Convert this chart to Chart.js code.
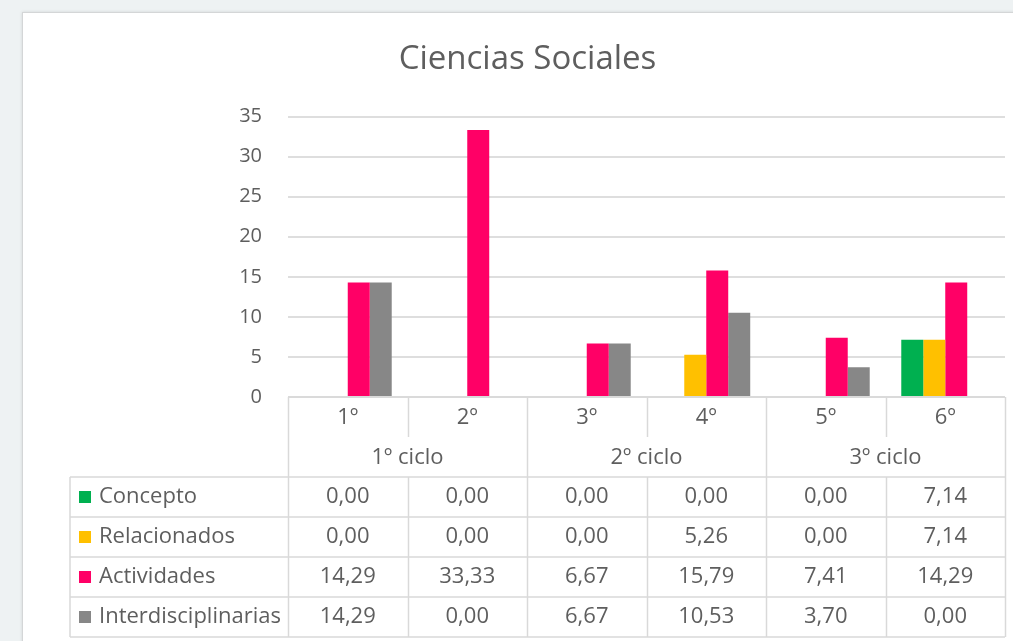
<!DOCTYPE html>
<html lang="es">
<head>
<meta charset="utf-8">
<title>Ciencias Sociales</title>
<script src="https://cdn.jsdelivr.net/npm/chart.js@4.4.1/dist/chart.umd.min.js"></script>
<style>
    html, body { margin: 0; padding: 0; background: #eef2f3; overflow: hidden; }
    #card {
        position: absolute; left: 22px; top: 12px; width: 1010px; height: 650px;
        background: #ffffff; border: 1px solid #d4d6d7; box-shadow: 0 0 3px rgba(0,0,0,0.12);
    }
    #chart-wrap { position: absolute; left: 0; top: 0; width: 1013px; height: 641px; }
</style>
</head>
<body>
<div id="card"></div>
<div id="chart-wrap"><canvas id="socialesChart" width="1013" height="641"></canvas></div>
<script>
const categories = ['1º', '2º', '3º', '4º', '5º', '6º'];
const cycles = ['1º ciclo', '2º ciclo', '3º ciclo'];
const seriesNames = ['Concepto', 'Relacionados', 'Actividades', 'Interdisciplinarias'];
const concepto = [0.00, 0.00, 0.00, 0.00, 0.00, 7.14];
const relacionados = [0.00, 0.00, 0.00, 5.26, 0.00, 7.14];
const actividades = [14.29, 33.33, 6.67, 15.79, 7.41, 14.29];
const interdisciplinarias = [14.29, 0.00, 6.67, 10.53, 3.70, 0.00];
const yTicks = [0, 5, 10, 15, 20, 25, 30, 35];

const seriesColors = ['#00b050', '#ffc000', '#ff0066', '#878787'];
const textColor = '#5e5e5e';
const lineColor = '#d9d9d9';
const fontFamily = '"Open Sans", "Noto Sans", sans-serif';

const fmt = v => v.toFixed(2).replace('.', ',');

// data table under the plot, drawn from the x scale
const dataTablePlugin = {
    id: 'dataTable',
    afterDraw(chart) {
        const ctx = chart.ctx;
        const xs = chart.scales.x;
        const area = chart.chartArea;
        const n = categories.length;
        const bounds = [area.left];
        for (let i = 1; i < n; i++) {
            bounds.push((xs.getPixelForValue(i - 1) + xs.getPixelForValue(i)) / 2);
        }
        bounds.push(area.right);

        const top = area.bottom;
        const headMid = top + 40;
        const headBottom = top + 80;
        const rowH = 40;
        const tableLeft = 70;
        const rows = [concepto, relacionados, actividades, interdisciplinarias];
        const tableBottom = headBottom + rows.length * rowH;

        ctx.save();
        ctx.strokeStyle = lineColor;
        ctx.lineWidth = 1.5;
        ctx.beginPath();
        // header box
        ctx.moveTo(area.left, top); ctx.lineTo(area.right, top);
        for (let i = 0; i <= n; i++) {
            const x = Math.round(bounds[i]) + 0.5;
            if (i % 2 === 0) {
                ctx.moveTo(x, top); ctx.lineTo(x, headBottom);
            } else {
                ctx.moveTo(x, top); ctx.lineTo(x, headMid);
            }
        }
        // body rows
        for (let r = 0; r <= rows.length; r++) {
            const y = headBottom + r * rowH;
            ctx.moveTo(tableLeft, y); ctx.lineTo(area.right, y);
        }
        ctx.moveTo(tableLeft, headBottom); ctx.lineTo(tableLeft, tableBottom);
        for (let i = 0; i <= n; i++) {
            const x = Math.round(bounds[i]) + 0.5;
            ctx.moveTo(x, headBottom); ctx.lineTo(x, tableBottom);
        }
        ctx.stroke();

        ctx.fillStyle = textColor;
        ctx.font = '22px ' + fontFamily;
        ctx.textBaseline = 'middle';
        ctx.textAlign = 'center';
        categories.forEach((c, i) => {
            ctx.fillText(c, xs.getPixelForValue(i), top + 21);
        });
        cycles.forEach((c, g) => {
            ctx.fillText(c, (bounds[g * 2] + bounds[g * 2 + 2]) / 2, top + 61);
        });

        rows.forEach((vals, r) => {
            const yMid = headBottom + r * rowH + rowH / 2;
            vals.forEach((v, i) => {
                ctx.fillText(fmt(v), xs.getPixelForValue(i), yMid);
            });
            ctx.fillStyle = seriesColors[r];
            ctx.fillRect(tableLeft + 9, yMid - 6, 12, 12);
            ctx.fillStyle = textColor;
            ctx.textAlign = 'left';
            ctx.fillText(seriesNames[r], tableLeft + 29, yMid);
            ctx.textAlign = 'center';
        });
        ctx.restore();
    }
};

document.addEventListener('DOMContentLoaded', () => {
    const ctx = document.getElementById('socialesChart').getContext('2d');
    const allSeries = [concepto, relacionados, actividades, interdisciplinarias];

    new Chart(ctx, {
        type: 'bar',
        data: {
            labels: categories,
            datasets: seriesNames.map((name, k) => ({
                label: name,
                data: allSeries[k],
                backgroundColor: seriesColors[k],
                borderWidth: 0,
                categoryPercentage: 0.736,
                barPercentage: 1.0
            }))
        },
        options: {
            responsive: false,
            animation: false,
            devicePixelRatio: 1,
            layout: { padding: { left: 50, right: 8, top: 0, bottom: 244 } },
            plugins: {
                legend: { display: false },
                tooltip: { enabled: false },
                title: {
                    display: true,
                    text: 'Ciencias Sociales',
                    color: textColor,
                    font: { family: fontFamily, size: 33, weight: 'normal' },
                    padding: { top: 40, bottom: 37 }
                }
            },
            scales: {
                x: { display: false },
                y: {
                    min: 0,
                    max: 35,
                    afterBuildTicks: scale => { scale.ticks = yTicks.map(v => ({ value: v })); },
                    afterFit: scale => { scale.width = 238; },
                    border: { display: false },
                    grid: { color: '#dedede', lineWidth: 2, drawTicks: false },
                    ticks: {
                        color: textColor,
                        padding: 26,
                        font: { family: fontFamily, size: 20 }
                    }
                }
            }
        },
        plugins: [dataTablePlugin]
    });
});
</script>
</body>
</html>
